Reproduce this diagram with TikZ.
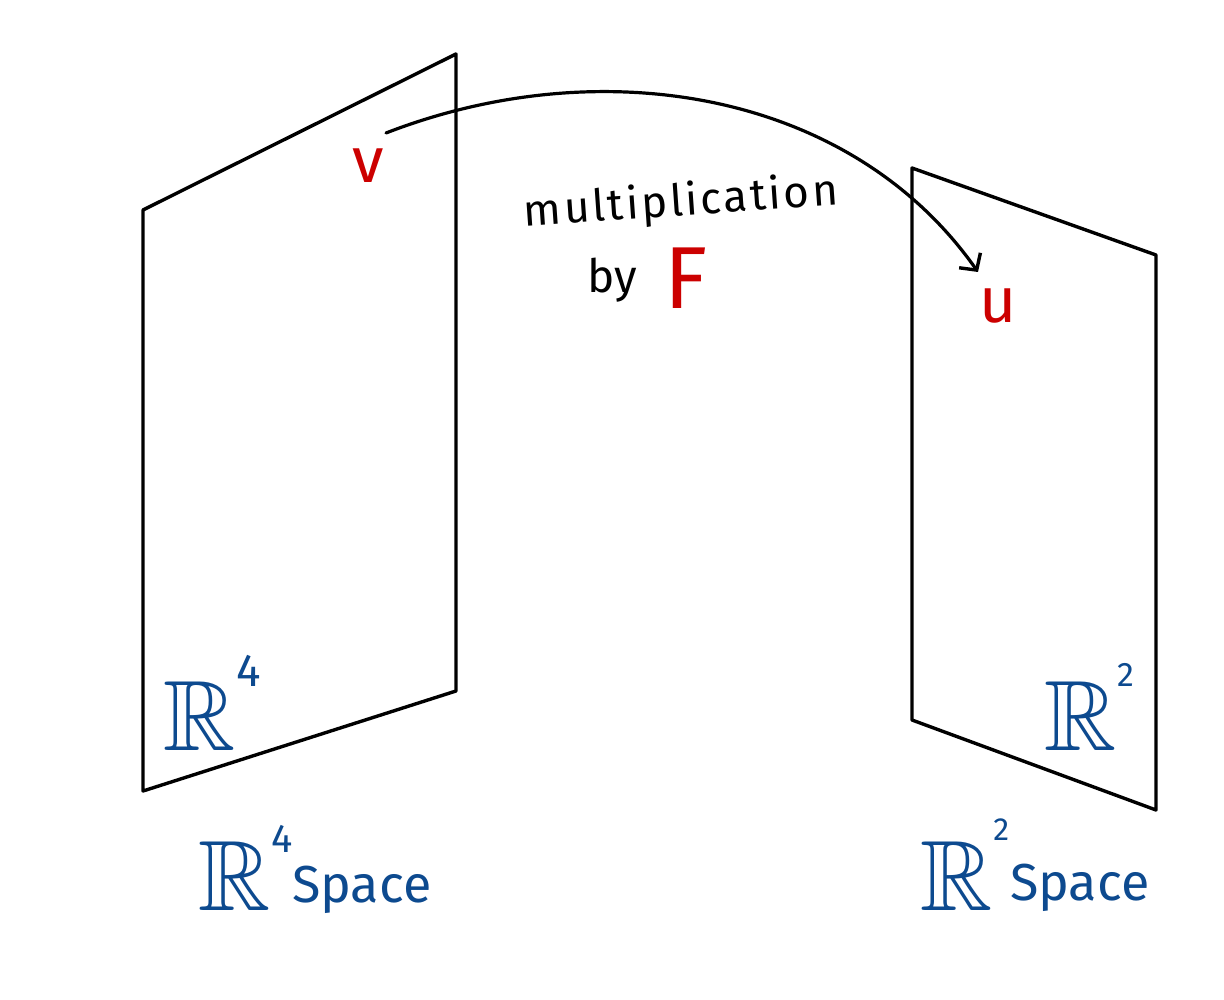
\documentclass[tikz,border=0pt]{standalone}
\usepackage{amssymb}
\usepackage{fontspec}
\setmainfont{Fira Sans}
\usetikzlibrary{arrows.meta}
\definecolor{hred}{HTML}{CC0000}
\definecolor{hblue}{HTML}{0D4A8F}
\newcommand{\supnum}[3]{\raisebox{#2pt}{\fontsize{#1}{#1}\selectfont #3}}
\begin{document}
\begin{tikzpicture}[x=1pt,y=-1pt,
  plane/.style={draw=black,line width=3.4pt,line join=round},
  lbl/.style={inner sep=0pt,font=\fontsize{#1}{#1}\selectfont},
  lbl/.default=40]
\useasboundingbox (0,0) rectangle (1224,1000);
% planes
\draw[plane] (143,210) -- (456,54) -- (456,691) -- (143,791) -- cycle;
\draw[plane] (912,168) -- (1156,255) -- (1156,810) -- (912,720) -- cycle;
% points
\node[lbl=64,text=hred] (v) at (368,166) {v};
\node[lbl=64,text=hred] (u) at (998,306) {u};
\coordinate (vs) at (386,133);
\coordinate (ue) at (978,272);
\draw[line width=3.2pt,line cap=round,-{Straight Barb[length=12pt,width=26pt,line width=3.4pt]}] (vs) .. controls (600,50) and (850,90) .. (ue);
% label
\node[lbl=44,rotate=4] (mult) at (681,203) {\addfontfeatures{LetterSpace=6}multiplication};
\node[lbl=46] (by) at (612,280) {by};
\node[lbl=88,text=hred] (F) at (686,278) {F};
% space labels in planes
\node[lbl=100,text=hblue,anchor=base west] (r4) at (163,750) {$\mathbb{R}$\hspace{1pt}\supnum{46}{64}{4}};
\node[lbl=100,text=hblue,anchor=base west] (r2) at (1044,750) {$\mathbb{R}$\hspace{1pt}\supnum{34}{64}{2}};
% captions
\node[lbl=100,text=hblue,anchor=base west] (c4) at (198,910) {$\mathbb{R}$\hspace{1pt}\supnum{40}{58}{4}};
\node[lbl=52,text=hblue,anchor=base west] (c4t) at (292,902) {Space};
\node[lbl=100,text=hblue,anchor=base west] (c2) at (920,910) {$\mathbb{R}$\hspace{1pt}\supnum{32}{70}{2}};
\node[lbl=52,text=hblue,anchor=base west] (c2t) at (1010,900) {Space};
\end{tikzpicture}
\end{document}
